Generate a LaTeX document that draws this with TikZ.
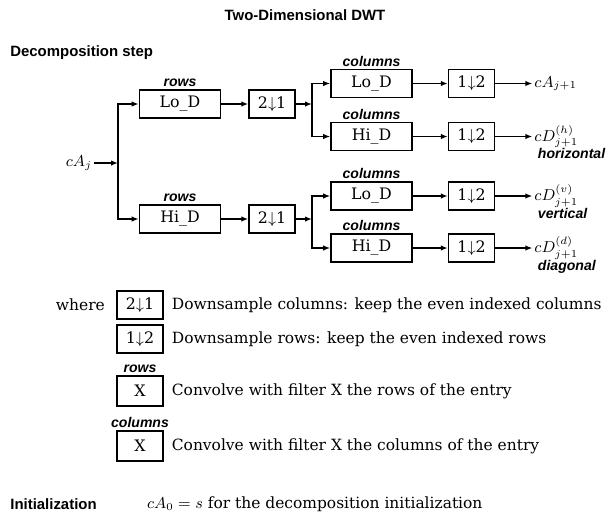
\documentclass[tikz,border=0pt]{standalone}
\usepackage{amsmath}
\usepackage{fontspec}
\setmainfont{DejaVu Serif}
\setsansfont{Liberation Sans}
\usetikzlibrary{arrows.meta, positioning}

\begin{document}
\begin{tikzpicture}[
  box/.style={draw, line width=0.9pt, minimum width=1.62cm, minimum height=0.56cm, inner sep=1pt, font=\fontsize{9}{10}\selectfont},
  dsbox/.style={box, minimum width=0.92cm},
  tag/.style={font=\sffamily\bfseries\itshape\fontsize{8}{9}\selectfont, inner sep=1pt},
  txt/.style={font=\fontsize{8.8}{10}\selectfont, inner sep=1pt},
  head/.style={font=\sffamily\bfseries\fontsize{8.5}{10}\selectfont, inner sep=0pt},
  arrow/.style={-{Latex[length=1.4mm, width=1.1mm]}, line width=0.8pt}
]
\useasboundingbox (0,0) rectangle (12.2,-10.32);
\node[head] (title) at (6.1,-0.3) {Two-Dimensional DWT};
\node[head, anchor=west] (dstep) at (0.2,-1.06) {Decomposition step};
\node[txt] (cAj) at (1.58,-3.26) {$cA_j$};
\coordinate (ja) at (2.36,-3.26);
\node[box] (rLo) at (3.6,-2.08) {Lo\_D};
\node[box] (rHi) at (3.6,-4.38) {Hi\_D};
\node[tag, above=0pt of rLo] (rLotag) {rows};
\node[tag, above=0pt of rHi] (rHitag) {rows};
\node[dsbox, right=0.54cm of rLo] (d1) {2$\downarrow$1};
\node[dsbox, right=0.54cm of rHi] (d2) {2$\downarrow$1};
\coordinate (jb1) at (6.24,-2.08);
\coordinate (jb2) at (6.24,-4.38);
\node[box] (cLo1) at (7.43,-1.67) {Lo\_D};
\node[box] (cHi1) at (7.43,-2.73) {Hi\_D};
\node[box] (cLo2) at (7.43,-3.92) {Lo\_D};
\node[box] (cHi2) at (7.43,-4.96) {Hi\_D};
\node[tag, above=0pt of cLo1] (cLo1tag) {columns};
\node[tag, above=0pt of cHi1] (cHi1tag) {columns};
\node[tag, above=0pt of cLo2] (cLo2tag) {columns};
\node[tag, above=0pt of cHi2] (cHi2tag) {columns};
\node[dsbox, right=0.7cm of cLo1] (u1) {1$\downarrow$2};
\node[dsbox, right=0.7cm of cHi1] (u2) {1$\downarrow$2};
\node[dsbox, right=0.7cm of cLo2] (u3) {1$\downarrow$2};
\node[dsbox, right=0.7cm of cHi2] (u4) {1$\downarrow$2};
\node[txt, right=0.74cm of u1] (o1) {$cA_{j+1}$};
\node[txt, right=0.74cm of u2] (o2) {$cD^{(h)}_{j+1}$};
\node[txt, right=0.74cm of u3] (o3) {$cD^{(v)}_{j+1}$};
\node[txt, right=0.74cm of u4] (o4) {$cD^{(d)}_{j+1}$};
\node[tag, anchor=north west] (o2tag) at ([xshift=2pt, yshift=2pt]o2.south west) {horizontal};
\node[tag, anchor=north west] (o3tag) at ([xshift=2pt, yshift=2pt]o3.south west) {vertical};
\node[tag, anchor=north west] (o4tag) at ([xshift=2pt, yshift=2pt]o4.south west) {diagonal};
\draw[arrow] (cAj) -- (ja);
\draw[arrow] (ja) |- (rLo);
\draw[arrow] (ja) |- (rHi);
\draw[arrow] (rLo) -- (d1);
\draw[arrow] (rHi) -- (d2);
\draw[arrow] (d1) -- (jb1);
\draw[arrow] (d2) -- (jb2);
\draw[arrow] (jb1) |- (cLo1);
\draw[arrow] (jb1) |- (cHi1);
\draw[arrow] (jb2) |- (cLo2);
\draw[arrow] (jb2) |- (cHi2);
\draw[arrow] (cLo1) -- (u1);
\draw[arrow] (cHi1) -- (u2);
\draw[arrow] (cLo2) -- (u3);
\draw[arrow] (cHi2) -- (u4);
\draw[arrow] (u1) -- (o1);
\draw[arrow] (u2) -- (o2);
\draw[arrow] (u3) -- (o3);
\draw[arrow] (u4) -- (o4);
\node[txt, anchor=east] (where) at (2.14,-6.1) {where};
\node[dsbox] (lg1) at (2.8,-6.1) {2$\downarrow$1};
\node[dsbox] (lg2) at (2.8,-6.78) {1$\downarrow$2};
\node[dsbox, minimum height=0.6cm] (lg3) at (2.8,-7.82) {X};
\node[dsbox, minimum height=0.6cm] (lg4) at (2.8,-8.92) {X};
\node[tag, above=0pt of lg3] (lg3tag) {rows};
\node[tag, above=0pt of lg4] (lg4tag) {columns};
\node[txt, right=0.12cm of lg1] (lg1txt) {Downsample columns: keep the even indexed columns};
\node[txt, right=0.12cm of lg2] (lg2txt) {Downsample rows: keep the even indexed rows};
\node[txt, right=0.12cm of lg3] (lg3txt) {Convolve with filter X the rows of the entry};
\node[txt, right=0.12cm of lg4] (lg4txt) {Convolve with filter X the columns of the entry};
\node[head, anchor=west] (init) at (0.2,-10.08) {Initialization};
\node[txt, anchor=west] (initxt) at (2.9,-10.08) {$cA_0 = s$ for the decomposition initialization};
\end{tikzpicture}
\end{document}
